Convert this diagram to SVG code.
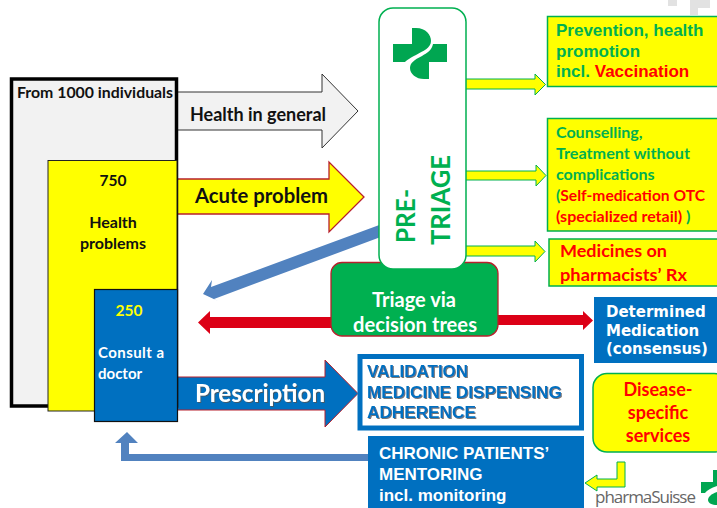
<svg xmlns="http://www.w3.org/2000/svg" width="717" height="508" viewBox="0 0 717 508">
<defs>
<filter id="sh" x="-10%" y="-20%" width="120%" height="140%"><feDropShadow dx="1" dy="1" stdDeviation="0.6" flood-color="#555" flood-opacity="0.8"/></filter>
</defs>
<style>
text{font-family:"Lato","Liberation Sans",sans-serif;font-weight:700}
.a{font-family:"Liberation Sans",Arial,sans-serif;font-weight:700}
.d{font-family:"DejaVu Sans",sans-serif;font-weight:700}
.g{fill:#00b050}.r{fill:#ff0000}.w{fill:#fff}.k{fill:#111}
.ya{fill:#ffff00;stroke:#00b050;stroke-width:1}
.ybox{fill:#ffff00;stroke:#00b050;stroke-width:1.5}
.m{text-anchor:middle}
</style>
<rect width="717" height="508" fill="#fff"/>
<path d="M668,0H677V6H668ZM690,0H698V15H690ZM698,0H710V8H698Z" fill="#e2e2e2"/>
<g id="connectors">
<path d="M177,92H322V74L358,111L322,148V130H177Z" fill="#f2f2f2" stroke="#333" stroke-width="1"/>
<path d="M177,179H329V162L364,197L329,232V214H177Z" fill="#ffff00" stroke="#b8202c" stroke-width="1.3"/>
<path d="M177,377H325V360L358,393.5L325,427V410H177Z" fill="#0070c0" stroke="#b8202c" stroke-width="1"/>
<path d="M382,224L386,235L214,299L218,301L203,294L212,280L211,287Z" fill="#5182bf"/>
<path d="M331,317H210V311L198,322.5L210,334V328H331Z" fill="#dc0016"/>
<path d="M498,315H583V311L593,320.5L583,330V325H498Z" fill="#dc0016"/>
<path d="M368,454H129V443H138L127,432L115,443H121V461H368Z" fill="#5182bf"/>
<path d="M464,79H535V74L545.5,84.5L535,95V89H464Z" class="ya"/>
<path d="M465,171H536V165L546,175.5L536,186V180H465Z" class="ya"/>
<path d="M464,246H535V241L545,251.5L535,262V256H464Z" class="ya"/>
<path d="M625,462V487H597V491L585,483L597,475V479H617V462Z" class="ya"/>
</g>
<g id="n-individuals">
<rect x="11.5" y="79" width="165" height="327" fill="#f2f2f2" stroke="#000" stroke-width="3.5"/>
<text x="17" y="98" font-size="15.500" class="k" textLength="156" lengthAdjust="spacingAndGlyphs">From  1000 individuals</text>
</g>
<g id="n-health-problems">
<rect x="48" y="160.5" width="129" height="250.5" fill="#ffff00" stroke="#222" stroke-width="1"/>
<text x="113" y="186" font-size="15.500" class="k m">750</text>
<text x="113" y="228" font-size="16" class="k m">Health</text>
<text x="113" y="249" font-size="16" class="k m">problems</text>
</g>
<g id="n-consult">
<rect x="94.5" y="289.5" width="83" height="132" fill="#0070c0" stroke="#111" stroke-width="1.2"/>
<text x="129" y="316" font-size="15.500" fill="#ffff00" class="m">250</text>
<text x="98" y="358" font-size="15" class="w" textLength="66">Consult a</text>
<text x="98" y="379" font-size="15" class="w">doctor</text>
</g>
<text id="l-health" x="190" y="121" font-size="18" class="k" textLength="136" lengthAdjust="spacingAndGlyphs">Health in general</text>
<text id="l-acute" x="195" y="203" font-size="21" class="k" textLength="133" lengthAdjust="spacingAndGlyphs">Acute problem</text>
<text id="l-rx" x="195" y="402" font-size="24" class="w" filter="url(#sh)" textLength="130" lengthAdjust="spacingAndGlyphs">Prescription</text>
<g id="n-triage">
<rect x="331" y="262.5" width="167" height="73.5" rx="11" fill="#00b050" stroke="#b8202c" stroke-width="1.3"/>
<text x="414" y="307" font-size="20" class="w m">Triage via</text>
<text x="415" y="332" font-size="20" class="w m" textLength="124" lengthAdjust="spacingAndGlyphs">decision trees</text>
</g>
<g id="n-pretriage">
<rect x="379" y="8" width="87" height="261" rx="14" fill="#fff" stroke="#00b050" stroke-width="1.5"/>
<path d="M393,44H412V28H416C426,28 431,35 431,41C431,48 423,51 416,55C410,58 407,60 405,62H393Z" fill="#00a651"/>
<path d="M447,44H433C432,50 427,53 422,56C414,60 410,63 410,68C410,74 416,79 424,79H429V62H447Z" fill="#00a651"/>
<text transform="translate(415,243) rotate(-90)" font-size="27" class="g" textLength="54" lengthAdjust="spacingAndGlyphs">PRE-</text>
<text transform="translate(450,245) rotate(-90)" font-size="27" class="g" textLength="90" lengthAdjust="spacingAndGlyphs">TRIAGE</text>
</g>
<g id="n-prevention">
<rect x="547.5" y="16.5" width="175" height="70" class="ybox"/>
<text x="556" y="36" font-size="17" class="a g">Prevention, health</text>
<text x="556" y="57" font-size="17" class="a g">promotion</text>
<text x="556" y="77" font-size="17" class="a g">incl. <tspan class="r">Vaccination</tspan></text>
</g>
<g id="n-counselling">
<rect x="547.5" y="118.5" width="175" height="112.5" class="ybox"/>
<text x="556" y="138" font-size="16" class="g">Counselling,</text>
<text x="556" y="159" font-size="16" class="g" textLength="134" lengthAdjust="spacingAndGlyphs">Treatment without</text>
<text x="556" y="180" font-size="16" class="g">complications</text>
<text x="556" y="201" font-size="16" class="r" textLength="149" lengthAdjust="spacingAndGlyphs"><tspan class="g">(</tspan>Self-medication OTC</text>
<text x="556" y="222" font-size="16" class="r">(specialized retail) <tspan class="g">)</tspan></text>
</g>
<g id="n-medicines">
<rect x="549" y="239" width="175" height="47" class="ybox"/>
<text x="560" y="257" font-size="17" class="r" textLength="107" lengthAdjust="spacingAndGlyphs">Medicines on</text>
<text x="560" y="281" font-size="17" class="r" textLength="127" lengthAdjust="spacingAndGlyphs">pharmacists’ Rx</text>
</g>
<g id="n-determined">
<rect x="594" y="297" width="123" height="66" fill="#0070c0"/>
<text x="606" y="317" font-size="15" class="d w">Determined</text>
<text x="606" y="336" font-size="15" class="d w">Medication</text>
<text x="606" y="354" font-size="15" class="d w">(consensus)</text>
</g>
<g id="n-disease">
<rect x="593" y="373.5" width="135" height="78.5" rx="14" class="ybox"/>
<text x="658" y="396" font-size="18" class="r m">Disease-</text>
<text x="658" y="419" font-size="18" class="r m">specific</text>
<text x="658" y="442" font-size="18" class="r m">services</text>
</g>
<g id="n-validation">
<rect x="360" y="356.5" width="221.500" height="71.500" fill="#fff" stroke="#0070c0" stroke-width="5"/>
<text x="367" y="377" font-size="17.200" class="a" fill="#0070c0" filter="url(#sh)" textLength="101" lengthAdjust="spacingAndGlyphs">VALIDATION</text>
<text x="367" y="398" font-size="17.200" class="a" fill="#0070c0" filter="url(#sh)">MEDICINE DISPENSING</text>
<text x="367" y="418" font-size="17.200" class="a" fill="#0070c0" filter="url(#sh)">ADHERENCE</text>
</g>
<g id="n-chronic">
<rect x="368" y="436" width="216" height="72" fill="#0070c0"/>
<text x="379" y="459" font-size="17" class="a w">CHRONIC PATIENTS’</text>
<text x="379" y="480" font-size="17" class="a w">MENTORING</text>
<text x="379" y="501" font-size="17" class="a w">incl. monitoring</text>
</g>
<g id="logo">
<text x="595" y="503" font-size="17" fill="#666" style="font-family:'Open Sans',sans-serif;font-weight:400" textLength="101">pharmaSuisse</text>
<path d="M701,482H713V470H717V486C711,488 707,490 705,493H701Z" fill="#00a651"/>
<path d="M717,492C711,494 708,497 708,500C708,503 712,505 717,505Z" fill="#00a651"/>
</g>
</svg>
